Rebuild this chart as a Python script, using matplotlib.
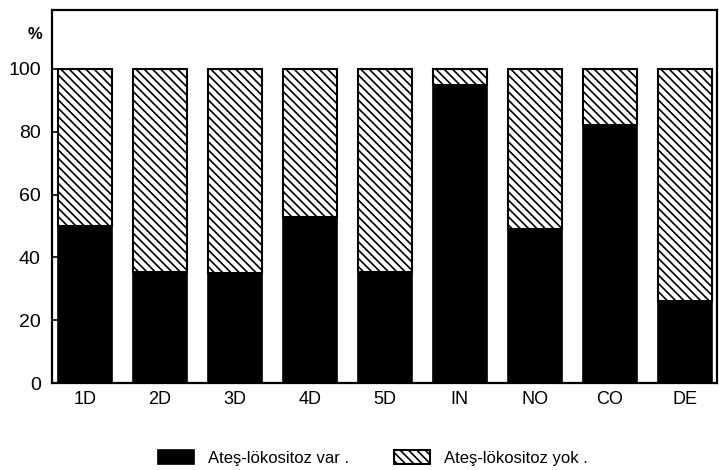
import matplotlib
matplotlib.use("Agg")
import matplotlib.pyplot as plt
import numpy as np

categories = ["1D", "2D", "3D", "4D", "5D", "IN", "NO", "CO", "DE"]
var_values = [50, 35.5, 35, 53, 35.5, 95, 49, 82, 26]
yok_values = [100 - v for v in var_values]
yticks = [0, 20, 40, 60, 80, 100]
legend_labels = ["Ateş-lökositoz var .", "Ateş-lökositoz yok ."]

plt.rcParams['font.family'] = ['Liberation Sans', 'DejaVu Sans']
plt.rcParams['hatch.linewidth'] = 1.2

fig = plt.figure(figsize=(7.19, 4.70), dpi=100)
ax = fig.add_axes([0.072, 0.185, 0.925, 0.794])

x = np.arange(len(categories))
b1 = ax.bar(x, var_values, width=0.72, color='black', edgecolor='black', linewidth=1.2,
            label=legend_labels[0])
b2 = ax.bar(x, yok_values, bottom=var_values, width=0.72, color='white', edgecolor='black',
            hatch='\\\\\\\\', linewidth=1.5, label=legend_labels[1])

ax.set_xlim(-0.44, 8.43)
ax.set_ylim(0, 118.8)
ax.set_yticks(yticks)
ax.set_yticklabels([str(t) for t in yticks], fontsize=14)
ax.set_xticks(x)
ax.set_xticklabels(categories, fontsize=13)
ax.tick_params(axis='x', length=0, pad=6)
ax.tick_params(axis='y', direction='in', length=4, width=1.2, pad=8)
for s in ax.spines.values():
    s.set_linewidth(1.6)

fig.text(0.049, 0.926, "%", fontsize=12, fontweight='bold', ha='center', va='center')

fig.legend(handles=[b1, b2], labels=legend_labels, loc='center', bbox_to_anchor=(0.518, 0.025),
           ncol=2, frameon=False, fontsize=12, handlelength=2.2, handleheight=0.9,
           handletextpad=0.8, columnspacing=2.7)

fig.savefig("out.png", dpi=100)
